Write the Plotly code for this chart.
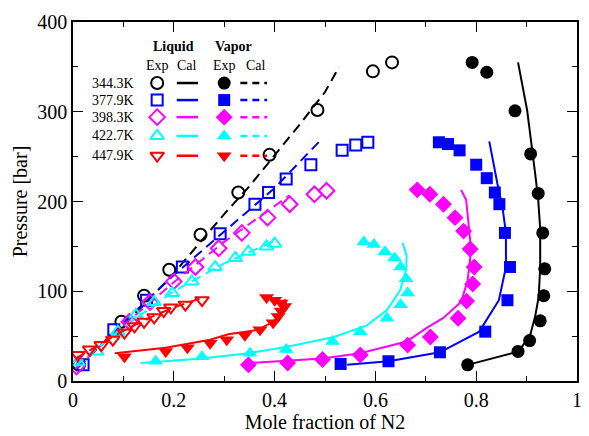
import plotly.graph_objects as go

# ---------------- data ----------------
temps = ["344.3K", "377.9K", "398.3K", "422.7K", "447.9K"]
colors = ["#000000", "#0000FF", "#FF00FF", "#00FFFF", "#FF0000"]
open_symbols = ["circle-open", "square-open", "diamond-open", "triangle-up-open", "triangle-down-open"]
fill_symbols = ["circle", "square", "diamond", "triangle-up", "triangle-down"]

# 344.3K
liq_exp_x_344 = [0.012, 0.096, 0.141, 0.191, 0.253, 0.328, 0.390, 0.485, 0.595, 0.633]
liq_exp_y_344 = [18, 66, 95, 124, 163, 210, 252, 302, 345, 355]
liq_cal_x_344 = [0.005, 0.05, 0.1, 0.15, 0.2, 0.25, 0.3, 0.35, 0.4, 0.45, 0.5, 0.528]
liq_cal_y_344 = [17, 37, 62, 90, 120, 153, 186, 217, 251, 286, 322, 350]
vap_exp_x_344 = [0.792, 0.821, 0.877, 0.908, 0.923, 0.932, 0.936, 0.934, 0.927, 0.906, 0.883, 0.783]
vap_exp_y_344 = [355, 344, 301, 253, 209, 165, 125, 95, 67, 45, 33, 18]
vap_cal_x_344 = [0.783, 0.885, 0.908, 0.917, 0.924, 0.927, 0.927, 0.923, 0.917, 0.901, 0.883]
vap_cal_y_344 = [18, 33, 53, 72, 94, 127, 170, 202, 231, 302, 355]

# 377.9K
liq_exp_x_378 = [0.020, 0.081, 0.146, 0.217, 0.292, 0.361, 0.388, 0.423, 0.472, 0.534, 0.561, 0.585]
liq_exp_y_378 = [18, 57, 90, 127, 164, 197, 210, 225, 241, 257, 263, 266]
liq_cal_x_378 = [0.01, 0.1, 0.2, 0.3, 0.4, 0.489]
liq_cal_y_378 = [15, 65, 118, 167, 215, 267]
vap_exp_x_378 = [0.726, 0.744, 0.767, 0.800, 0.821, 0.837, 0.846, 0.857, 0.867, 0.862, 0.818, 0.728, 0.626, 0.531]
vap_exp_y_378 = [266, 264, 257, 241, 226, 210, 197, 165, 127, 90, 55, 32, 22, 19]
vap_cal_x_378 = [0.544, 0.626, 0.728, 0.806, 0.845, 0.859, 0.859, 0.852, 0.842, 0.826]
vap_cal_y_378 = [18, 22, 32, 55, 90, 127, 165, 194, 220, 267]

# 398.3K
liq_exp_x_398 = [0.007, 0.112, 0.153, 0.200, 0.243, 0.289, 0.335, 0.386, 0.430, 0.479, 0.503]
liq_exp_y_398 = [16, 66, 88, 111, 127, 148, 165, 182, 197, 208, 212]
liq_cal_x_398 = [0.005, 0.1, 0.2, 0.3, 0.4, 0.43]
liq_cal_y_398 = [14, 62, 110, 155, 195, 207]
vap_exp_x_398 = [0.683, 0.708, 0.735, 0.758, 0.775, 0.788, 0.796, 0.793, 0.781, 0.764, 0.709, 0.664, 0.570, 0.495, 0.426, 0.348]
vap_exp_y_398 = [213, 208, 197, 182, 167, 147, 127, 108, 89, 70, 49, 40, 29, 24, 20, 18]
vap_cal_x_398 = [0.348, 0.495, 0.570, 0.662, 0.701, 0.734, 0.770, 0.783, 0.790, 0.786, 0.780, 0.770]
vap_cal_y_398 = [20, 25, 31, 44, 59, 70, 88, 112, 146, 172, 202, 213]

# 422.7K
liq_exp_x_423 = [0.010, 0.047, 0.089, 0.125, 0.161, 0.197, 0.236, 0.282, 0.322, 0.348, 0.384, 0.400]
liq_exp_y_423 = [21, 33, 55, 74, 88, 98, 111, 127, 137, 144, 150, 153]
liq_cal_x_423 = [0.005, 0.1, 0.2, 0.3, 0.4]
liq_cal_y_423 = [17, 60, 100, 131, 156]
vap_exp_x_423 = [0.577, 0.597, 0.619, 0.638, 0.650, 0.661, 0.664, 0.650, 0.623, 0.570, 0.515, 0.423, 0.351, 0.256, 0.164]
vap_exp_y_423 = [155, 152, 144, 137, 127, 114, 98, 85, 70, 55, 44, 35, 31, 27, 22]
vap_cal_x_423 = [0.135, 0.256, 0.348, 0.423, 0.518, 0.583, 0.623, 0.649, 0.661, 0.662, 0.654]
vap_cal_y_423 = [20, 25, 31, 38, 49, 62, 79, 101, 124, 139, 154]

# 447.9K
liq_exp_x_448 = [0.010, 0.033, 0.056, 0.079, 0.102, 0.122, 0.141, 0.161, 0.180, 0.194, 0.223, 0.256]
liq_exp_y_448 = [29, 35, 40, 46, 54, 61, 66, 71, 78, 82, 85, 90]
liq_cal_x_448 = [0.005, 0.05, 0.1, 0.15, 0.2, 0.263]
liq_cal_y_448 = [25, 40, 56, 70, 82, 94]
vap_exp_x_448 = [0.102, 0.184, 0.227, 0.272, 0.305, 0.341, 0.371, 0.397, 0.407, 0.413, 0.420, 0.413, 0.400, 0.384]
vap_exp_y_448 = [27, 33, 37, 42, 46, 51, 57, 65, 72, 78, 83, 87, 90, 93]
vap_cal_x_448 = [0.083, 0.184, 0.272, 0.308, 0.367, 0.397, 0.415, 0.423, 0.420]
vap_cal_y_448 = [31, 37, 46, 52, 57, 66, 76, 85, 91]

liq_exp_x = [liq_exp_x_344, liq_exp_x_378, liq_exp_x_398, liq_exp_x_423, liq_exp_x_448]
liq_exp_y = [liq_exp_y_344, liq_exp_y_378, liq_exp_y_398, liq_exp_y_423, liq_exp_y_448]
liq_cal_x = [liq_cal_x_344, liq_cal_x_378, liq_cal_x_398, liq_cal_x_423, liq_cal_x_448]
liq_cal_y = [liq_cal_y_344, liq_cal_y_378, liq_cal_y_398, liq_cal_y_423, liq_cal_y_448]
vap_exp_x = [vap_exp_x_344, vap_exp_x_378, vap_exp_x_398, vap_exp_x_423, vap_exp_x_448]
vap_exp_y = [vap_exp_y_344, vap_exp_y_378, vap_exp_y_398, vap_exp_y_423, vap_exp_y_448]
vap_cal_x = [vap_cal_x_344, vap_cal_x_378, vap_cal_x_398, vap_cal_x_423, vap_cal_x_448]
vap_cal_y = [vap_cal_y_344, vap_cal_y_378, vap_cal_y_398, vap_cal_y_423, vap_cal_y_448]

x_tickvals = [0, 0.2, 0.4, 0.6, 0.8, 1]
x_ticktext = ["0", "0.2", "0.4", "0.6", "0.8", "1"]
y_tickvals = [0, 100, 200, 300, 400]
y_ticktext = ["0", "100", "200", "300", "400"]

# ---------------- style ----------------
FONT = "Liberation Serif, Times New Roman, DejaVu Serif, serif"
DASH = "10px,6px"
LEG = dict(rows=[332, 313, 294, 273, 251], label_x=0.124, lexp_x=0.167,
           lcal_x=(0.206, 0.248), vexp_x=0.300, vcal_x=(0.332, 0.385),
           head_y=373, sub_y=351)
MSIZE = [12, 11, 12, 12, 12]

fig = go.Figure()

for i in range(5):
    c = colors[i]
    fig.add_trace(go.Scatter(x=liq_cal_x[i], y=liq_cal_y[i], mode="lines",
                             line=dict(color=c, width=2, dash=DASH), showlegend=False))
    fig.add_trace(go.Scatter(x=vap_cal_x[i], y=vap_cal_y[i], mode="lines",
                             line=dict(color=c, width=2), showlegend=False))
    fig.add_trace(go.Scatter(x=liq_exp_x[i], y=liq_exp_y[i], mode="markers",
                             marker=dict(symbol=open_symbols[i], color=c, size=MSIZE[i],
                                         line=dict(color=c, width=2)), showlegend=False))
    fig.add_trace(go.Scatter(x=vap_exp_x[i], y=vap_exp_y[i], mode="markers",
                             marker=dict(symbol=fill_symbols[i], color=c, size=MSIZE[i] + 1,
                                         line=dict(width=0)), showlegend=False))

# in-plot legend
for i in range(5):
    c = colors[i]
    ry = LEG["rows"][i]
    fig.add_trace(go.Scatter(x=[LEG["lexp_x"]], y=[ry], mode="markers", cliponaxis=False,
                             marker=dict(symbol=open_symbols[i], color=c, size=MSIZE[i],
                                         line=dict(color=c, width=2)), showlegend=False))
    fig.add_trace(go.Scatter(x=list(LEG["lcal_x"]), y=[ry, ry], mode="lines",
                             line=dict(color=c, width=2.5), showlegend=False))
    fig.add_trace(go.Scatter(x=[LEG["vexp_x"]], y=[ry], mode="markers", cliponaxis=False,
                             marker=dict(symbol=fill_symbols[i], color=c, size=MSIZE[i] + 1,
                                         line=dict(width=0)), showlegend=False))
    fig.add_trace(go.Scatter(x=list(LEG["vcal_x"]), y=[ry, ry], mode="lines",
                             line=dict(color=c, width=2.5, dash="7px,5px"), showlegend=False))
    fig.add_annotation(x=LEG["label_x"], y=ry, text=temps[i], showarrow=False,
                       xanchor="right", yanchor="middle",
                       font=dict(family=FONT, size=14, color="black"))

heads = [("<b>Liquid</b>", 0.200, LEG["head_y"]), ("<b>Vapor</b>", 0.318, LEG["head_y"]),
         ("Exp", 0.167, LEG["sub_y"]), ("Cal", 0.227, LEG["sub_y"]),
         ("Exp", 0.300, LEG["sub_y"]), ("Cal", 0.363, LEG["sub_y"])]
for t, hx, hy in heads:
    fig.add_annotation(x=hx, y=hy, text=t, showarrow=False, xanchor="center", yanchor="middle",
                       font=dict(family=FONT, size=14, color="black"))

axis_common = dict(showline=True, linecolor="black", linewidth=1.5, mirror="ticks",
                   ticks="inside", ticklen=10, tickwidth=1, tickcolor="black",
                   showgrid=False, zeroline=False,
                   tickfont=dict(family=FONT, size=20, color="black"))

fig.update_xaxes(range=[0, 1], tickvals=x_tickvals, ticktext=x_ticktext,
                 minor=dict(ticks="inside", ticklen=5, dtick=0.1, tickcolor="black", showgrid=False),
                 title=dict(text="Mole fraction of N2", font=dict(family=FONT, size=20, color="black"),
                            standoff=4),
                 **axis_common)
fig.update_yaxes(range=[0, 400], tickvals=y_tickvals, ticktext=y_ticktext,
                 minor=dict(ticks="inside", ticklen=5, dtick=50, tickcolor="black", showgrid=False),
                 title=dict(text="Pressure [bar]", font=dict(family=FONT, size=20, color="black"),
                            standoff=4),
                 **axis_common)

fig.update_layout(width=589, height=436, margin=dict(l=73, r=7, t=22, b=54),
                  plot_bgcolor="white", paper_bgcolor="white", showlegend=False)

fig.write_html("out.html")
